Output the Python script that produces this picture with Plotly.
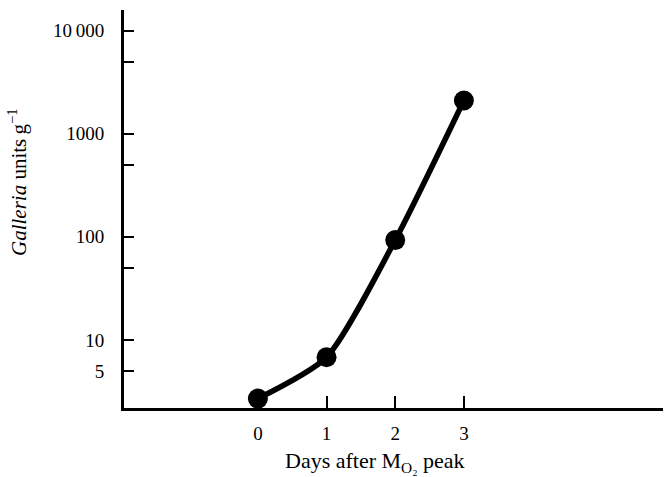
import plotly.graph_objects as go

days = [0, 1, 2, 3]
galleria_units = [2.7, 6.8, 93, 2100]

y_tickvals = [5, 10, 50, 100, 500, 1000, 5000, 10000]
y_ticktext = ["5", "10", "", "100", "", "1000", "", "10\u2009000"]
x_tickvals = [0, 1, 2, 3]
x_ticktext = ["0", "1", "2", "3"]

x_title = "Days after M<sub>O\u2082</sub> peak"
y_title = "<i>Galleria</i> units\u2009g<sup>\u22121</sup>"

font_family = "Liberation Serif, Times New Roman, serif"

W, H = 665, 477
L, R, T, B = 124, 2, 10, 69
pw, ph = W - L - R, H - T - B

def px_to_paper(px, py):
    return (px - L) / pw, (H - B - py) / ph

fig = go.Figure()
fig.add_trace(go.Scatter(
    x=days, y=galleria_units,
    mode="lines+markers",
    line=dict(color="black", width=5.5, shape="spline", smoothing=0.65),
    marker=dict(color="black", size=20),
    cliponaxis=False,
    showlegend=False,
))

xt = px_to_paper(375, 462)
yt = px_to_paper(17, 182)
fig.add_annotation(text=x_title, xref="paper", yref="paper", x=xt[0], y=xt[1],
                   showarrow=False, font=dict(size=22), xanchor="center", yanchor="middle")
fig.add_annotation(text=y_title, xref="paper", yref="paper", x=yt[0], y=yt[1],
                   showarrow=False, font=dict(size=21), textangle=-90,
                   xanchor="center", yanchor="middle")

fig.update_layout(
    width=W, height=H,
    margin=dict(l=L, r=R, t=T, b=B, autoexpand=False),
    paper_bgcolor="white", plot_bgcolor="white",
    font=dict(family=font_family, color="black", size=19),
    xaxis=dict(
        range=[-1.95, 5.9],
        tickvals=x_tickvals, ticktext=x_ticktext,
        ticks="inside", ticklen=12, tickwidth=2, tickcolor="black",
        showline=True, linecolor="black", linewidth=3,
        showgrid=False, zeroline=False, automargin=False,
        ticklabelstandoff=6,
    ),
    yaxis=dict(
        type="log",
        range=[0.34, 4.2],
        tickvals=y_tickvals, ticktext=y_ticktext,
        ticks="inside", ticklen=10, tickwidth=2, tickcolor="black",
        showline=True, linecolor="black", linewidth=3,
        showgrid=False, zeroline=False, automargin=False,
        ticklabelstandoff=13,
    ),
)

fig.write_html("out.html", config={"displayModeBar": False},
               post_script="document.body.style.margin='0';document.body.style.overflow='hidden';")
